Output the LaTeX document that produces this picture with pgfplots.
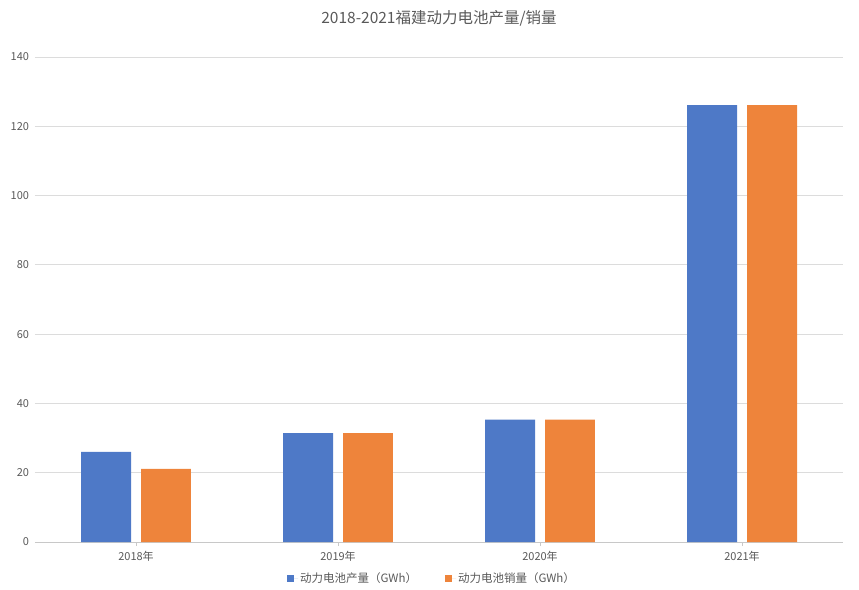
\documentclass[border=0pt]{standalone}
\usepackage{fontspec}
\setmainfont{Noto Sans CJK SC}
\usepackage{pgfplots}
\pgfplotsset{compat=1.18}
\definecolor{cblue}{HTML}{4E79C7}
\definecolor{corange}{HTML}{EE843B}
\definecolor{gridc}{HTML}{DCDCDC}
\definecolor{axisc}{HTML}{C8C8C8}
\definecolor{txt}{HTML}{595959}
\begin{document}
\begin{tikzpicture}[x=1pt,y=1pt]
\path[use as bounding box] (-35,-47) rectangle (824,542);
\begin{axis}[
  at={(0,0)}, anchor=south west,
  scale only axis, width=808pt, height=485pt,
  xmin=-0.5, xmax=3.5, ymin=0, ymax=140,
  ytick={0,20,...,140},
  ymajorgrids, major grid style={draw=gridc, line width=0.8pt},
  xtick={0,1,2,3}, xticklabels={2018年,2019年,2020年,2021年},
  axis x line*=bottom, axis y line*=left,
  y axis line style={draw=none},
  x axis line style={draw=axisc, line width=0.9pt},
  ytick style={draw=none},
  xtick style={draw=axisc, line width=0.9pt},
  tick align=outside, major tick length=4pt,
  /pgf/number format/assume math mode=true,
  ticklabel style={font=\fontsize{11}{13}\selectfont, text=txt},
  yticklabel style={xshift=1.5pt},
  xticklabel style={yshift=-1.5pt},
  title={2018-2021福建动力电池产量/销量},
  title style={at={(axis description cs:0.5,1)}, anchor=center, yshift=33pt,
    font=\fontsize{15.5}{18}\selectfont, text=txt},
  legend columns=2,
  legend style={at={(axis description cs:0.5,0)}, anchor=center, yshift=-36pt, xshift=-7pt,
    draw=none, fill=none, font=\fontsize{11.5}{13}\selectfont, text=txt,
    /tikz/every even column/.append style={column sep=26pt}},
  legend image code/.code={\fill[#1] (0pt,-3.5pt) rectangle (7pt,3.5pt); \path (0pt,0pt) -- (11pt,0pt);},
]
\addplot[ybar, bar width=0.2475, bar shift=-0.1485, fill=cblue, draw=none]
  coordinates {(0,26.0) (1,31.4) (2,35.3) (3,126.1)};
\addlegendentry{动力电池产量（GWh）}
\addplot[ybar, bar width=0.2475, bar shift=0.1485, fill=corange, draw=none]
  coordinates {(0,21.1) (1,31.4) (2,35.3) (3,126.1)};
\addlegendentry{动力电池销量（GWh）}
\end{axis}
\end{tikzpicture}
\end{document}
